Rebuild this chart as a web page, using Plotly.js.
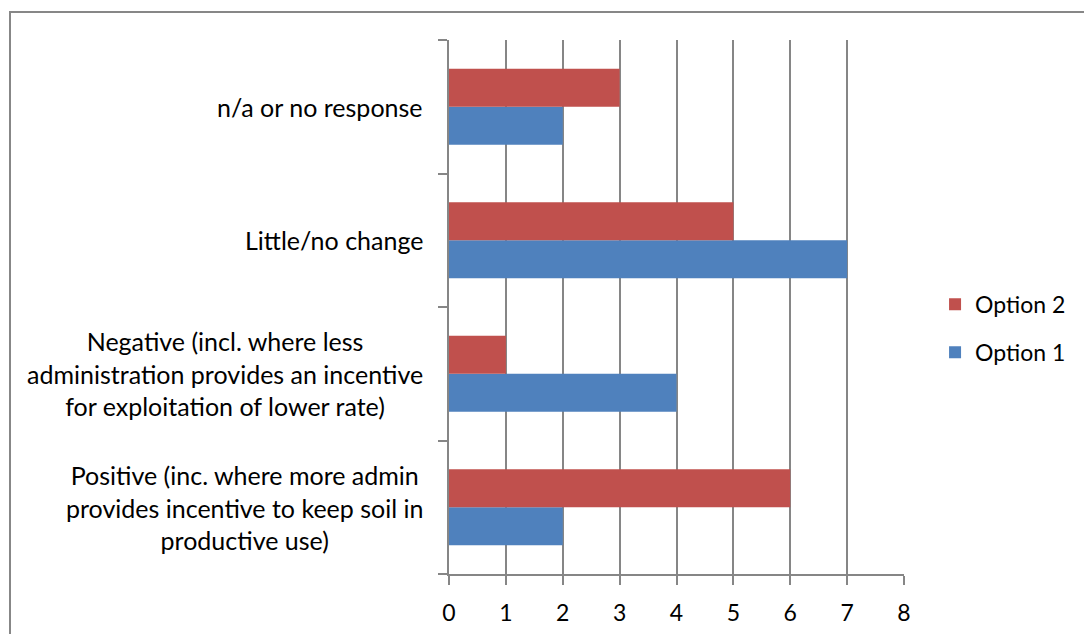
<!DOCTYPE html>
<html>
<head>
<meta charset="utf-8">
<script src="https://cdn.plot.ly/plotly-3.0.1.min.js"></script>
<style>
  html, body { margin: 0; padding: 0; background: #fff; }
  #wrap { position: relative; width: 1084px; height: 634px; overflow: hidden; }
  #chart { position: absolute; left: 0; top: 0; width: 1084px; height: 634px; }
  #frame {
    position: absolute; left: 9px; top: 11px; width: 1200px; height: 800px;
    border-left: 2px solid #878787; border-top: 2px solid #878787;
    pointer-events: none;
  }
</style>
</head>
<body>
<div id="wrap">
  <div id="chart"></div>
  <div id="frame"></div>
</div>
<script>
// Categories listed top to bottom as they appear on the chart
const categories = [
  "n/a or no response",
  "Little/no change",
  "Negative (incl. where less<br>administration provides an incentive<br>for exploitation of lower rate)",
  "Positive (inc. where more admin<br>provides incentive to keep soil in<br>productive use)"
];
const option1 = [2, 7, 4, 2];
const option2 = [3, 5, 1, 6];
const xTicks = [0, 1, 2, 3, 4, 5, 6, 7, 8];

const FONT = "Lato, 'Open Sans', sans-serif";
const LABEL_SIZE = 25;
const GRID = "#868686";

const traces = [
  {
    type: "bar", orientation: "h", name: "Option 1",
    y: categories, x: option1,
    marker: { color: "#4F81BD" },
    legendgroup: "o1", legendrank: 2, hoverinfo: "x+name"
  },
  {
    type: "bar", orientation: "h", name: "Option 2",
    y: categories, x: option2,
    marker: { color: "#C0504D" },
    legendgroup: "o2", legendrank: 1, hoverinfo: "x+name"
  }
];

// Width of the widest line of a label, used to centre each block
// of lines while keeping its right edge next to the axis
const measureCtx = document.createElement("canvas").getContext("2d");
measureCtx.font = LABEL_SIZE + "px Lato";
function blockWidth(label) {
  return Math.max(...label.split("<br>").map(s => measureCtx.measureText(s).width));
}

const LABEL_GAP = 26;
const labelAnnotations = categories.map(c => ({
  xref: "paper", yref: "y", x: 0, y: c,
  xanchor: "center", yanchor: "middle",
  xshift: -LABEL_GAP - blockWidth(c) / 2,
  text: c, showarrow: false, align: "center",
  font: { family: FONT, size: LABEL_SIZE, color: "#000" }
}));

const layout = {
  width: 1084, height: 634,
  margin: { l: 449, r: 180, t: 40, b: 60 },
  paper_bgcolor: "#fff", plot_bgcolor: "#fff",
  barmode: "group", bargap: 0.43, bargroupgap: 0,
  font: { family: FONT, size: 23, color: "#000" },
  xaxis: {
    range: [0, 8], tickvals: xTicks, ticktext: xTicks.map(String),
    showgrid: true, gridcolor: GRID, gridwidth: 2,
    zeroline: false, showline: true, linecolor: GRID, linewidth: 2,
    ticks: "outside", ticklen: 9, tickcolor: GRID, tickwidth: 2,
    ticklabelstandoff: 8,
    tickfont: { family: FONT, size: 23, color: "#000" },
    fixedrange: true
  },
  yaxis: {
    type: "category",
    categoryorder: "array", categoryarray: categories.slice().reverse(),
    showticklabels: false, showgrid: false, zeroline: false,
    showline: true, linecolor: GRID, linewidth: 2,
    ticks: "outside", tickson: "boundaries", ticklen: 9,
    tickcolor: GRID, tickwidth: 2,
    fixedrange: true
  },
  showlegend: true,
  legend: {
    xref: "container", x: 0.8626, xanchor: "left",
    y: 0.46, yanchor: "middle",
    traceorder: "grouped", tracegroupgap: 15,
    font: { family: FONT, size: 23, color: "#000" },
    bgcolor: "rgba(0,0,0,0)"
  },
  annotations: labelAnnotations
};

Plotly.newPlot("chart", traces, layout, { displayModeBar: false, staticPlot: true });
</script>
</body>
</html>
